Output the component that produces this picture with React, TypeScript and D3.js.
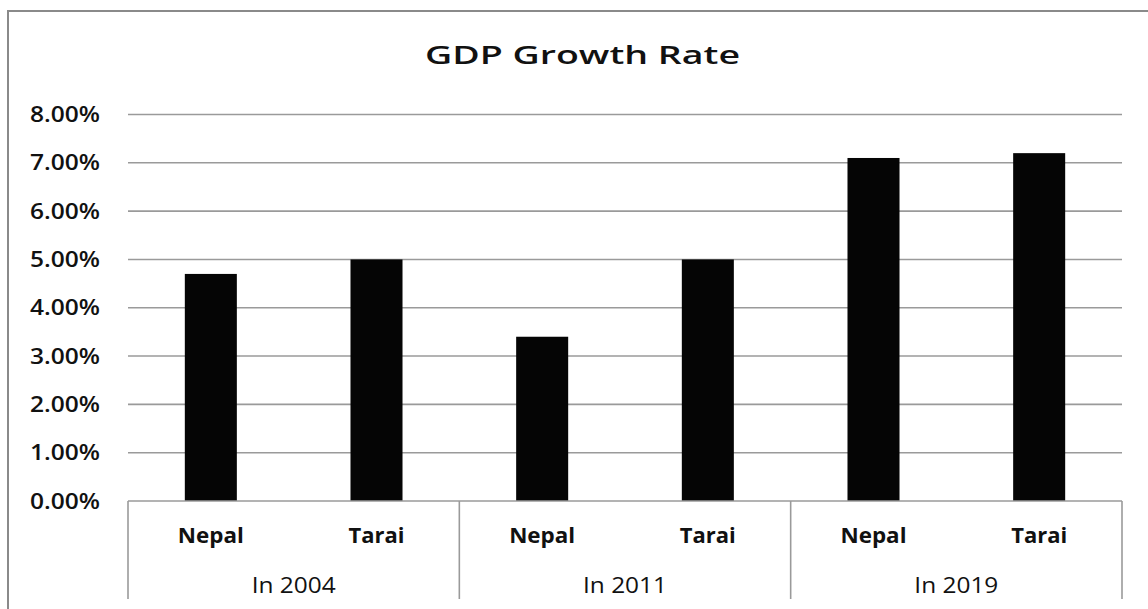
import React from "react";
import * as d3 from "d3";

const groups = ["In 2004", "In 2011", "In 2019"];
const categories = ["Nepal", "Tarai", "Nepal", "Tarai", "Nepal", "Tarai"];
const values = [4.7, 5.0, 3.4, 5.0, 7.1, 7.2];
const yTicks = [0, 1, 2, 3, 4, 5, 6, 7, 8];
const title = "GDP Growth Rate";

const W = 1148;
const H = 609;
const FONT = "'Open Sans', 'Liberation Sans', sans-serif";

export default function App() {
  const left = 128;
  const right = 1122;
  const top = 114.5;
  const bottom = 501;
  const axisBottom = 599;

  const y = d3.scaleLinear().domain([0, 8]).range([bottom, top]);
  const idx = categories.map((_, i) => String(i));
  const x = d3.scaleBand<string>().domain(idx).range([left, right]).paddingInner(0.686).paddingOuter(0.343);
  const g = d3.scaleBand<string>().domain(groups).range([left, right]);

  return (
    <svg width={W} height={H} style={{ position: "absolute", left: 0, top: 0 }}>
      <rect x={0} y={0} width={W} height={H} fill="#fff" />
      <path d={`M8,${H + 5}V11H${W + 5}`} fill="none" stroke="#8a8a8a" strokeWidth={2} />
      <text x={582.5} y={64} textAnchor="middle" fontFamily={FONT} fontSize={26} fontWeight={600}
        textLength={315} lengthAdjust="spacingAndGlyphs" fill="#111">{title}</text>
      {yTicks.map((t) => (
        <g key={t}>
          {t > 0 && (
            <line x1={left} x2={right} y1={y(t)} y2={y(t)} stroke="#9a9a9a" strokeWidth={1.6} />
          )}
          <text x={100} y={y(t) + 7.5} textAnchor="end" fontFamily={FONT} fontSize={21} fontWeight={600}
            textLength={70} lengthAdjust="spacingAndGlyphs" fill="#111">{`${t.toFixed(2)}%`}</text>
        </g>
      ))}
      {values.map((v, i) => (
        <rect key={i} x={x(String(i))} y={y(v)} width={x.bandwidth()} height={y(0) - y(v)} fill="#050505" />
      ))}
      <line x1={left} x2={right} y1={bottom} y2={bottom} stroke="#9a9a9a" strokeWidth={1.6} />
      {[...groups.map((gr) => g(gr) as number), right].map((xx, i) => (
        <line key={i} x1={xx} x2={xx} y1={bottom} y2={axisBottom} stroke="#9a9a9a" strokeWidth={1.6} />
      ))}
      {categories.map((c, i) => (
        <text key={i} x={(x(String(i)) as number) + x.bandwidth() / 2} y={542.5} textAnchor="middle"
          fontFamily={FONT} fontSize={21} fontWeight={700} textLength={c === "Nepal" ? 66 : 56}
          lengthAdjust="spacingAndGlyphs" fill="#111">{c}</text>
      ))}
      {groups.map((gr) => (
        <text key={gr} x={(g(gr) as number) + g.bandwidth() / 2} y={592.5} textAnchor="middle"
          fontFamily={FONT} fontSize={21} fontWeight={500} textLength={84}
          lengthAdjust="spacingAndGlyphs" fill="#111">{gr}</text>
      ))}
    </svg>
  );
}
